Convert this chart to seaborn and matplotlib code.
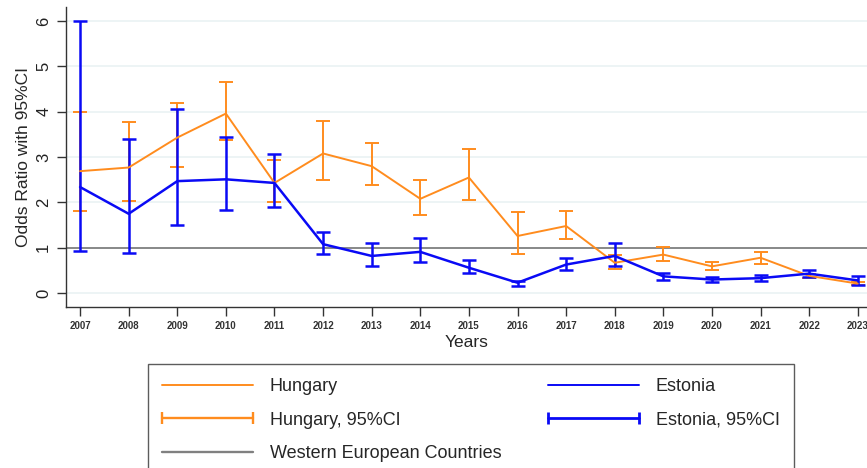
import pandas as pd
import numpy as np
import seaborn as sns
import matplotlib.pyplot as plt
from matplotlib.lines import Line2D
from matplotlib.legend_handler import HandlerLine2D

years = list(range(2007, 2024))

hu_or = [2.69, 2.77, 3.43, 3.96, 2.43, 3.08, 2.80, 2.08, 2.55, 1.26, 1.48, 0.67, 0.85, 0.59, 0.78, 0.38, 0.21]
hu_lo = [1.81, 2.03, 2.79, 3.38, 2.02, 2.49, 2.38, 1.72, 2.05, 0.87, 1.20, 0.54, 0.71, 0.50, 0.64, 0.34, 0.17]
hu_hi = [4.00, 3.77, 4.19, 4.66, 2.94, 3.79, 3.31, 2.49, 3.17, 1.80, 1.82, 0.83, 1.02, 0.69, 0.91, 0.43, 0.25]

ee_or = [2.34, 1.75, 2.47, 2.51, 2.43, 1.08, 0.82, 0.91, 0.56, 0.23, 0.63, 0.82, 0.37, 0.30, 0.33, 0.43, 0.28]
ee_lo = [0.92, 0.88, 1.51, 1.83, 1.91, 0.87, 0.60, 0.68, 0.45, 0.15, 0.51, 0.59, 0.30, 0.24, 0.26, 0.36, 0.18]
ee_hi = [6.00, 3.40, 4.07, 3.44, 3.06, 1.35, 1.10, 1.21, 0.72, 0.26, 0.77, 1.11, 0.44, 0.36, 0.39, 0.51, 0.38]

western_ref = 1.0
y_ticks = [0, 1, 2, 3, 4, 5, 6]

ORANGE = '#FF8C1E'
BLUE = '#0A0AF5'
GRAY = '#808080'

sns.set_style('white')
plt.rcParams['font.family'] = ['Liberation Sans', 'DejaVu Sans']

df = pd.concat([
    pd.DataFrame({'Year': years, 'OR': hu_or, 'lo': hu_lo, 'hi': hu_hi, 'Country': 'Hungary'}),
    pd.DataFrame({'Year': years, 'OR': ee_or, 'lo': ee_lo, 'hi': ee_hi, 'Country': 'Estonia'}),
])
palette = {'Hungary': ORANGE, 'Estonia': BLUE}
widths = {'Hungary': 1.4, 'Estonia': 1.8}

fig = plt.figure(figsize=(8.67, 4.68), dpi=100)
ax = fig.add_axes([0.0758, 0.3446, 0.9242, 0.6404])

for t in y_ticks:
    ax.axhline(t, color='#EAF2F3', lw=1.2, zorder=0)
ax.axhline(western_ref, color=GRAY, lw=1.3, zorder=1)

for country in ['Hungary', 'Estonia']:
    sub = df[df.Country == country]
    ax.errorbar(sub.Year, sub.OR, yerr=[sub.OR - sub.lo, sub.hi - sub.OR], fmt='none',
                ecolor=palette[country], elinewidth=widths[country], capsize=4.8,
                capthick=widths[country], zorder=2)
    sns.lineplot(data=sub, x='Year', y='OR', color=palette[country], lw=widths[country],
                 ax=ax, legend=False, zorder=3)

ax.set_xlim(2006.705, 2023.19)
ax.set_ylim(-0.30, 6.31)
ax.set_xticks(years)
ax.set_xticklabels([str(y) for y in years], fontsize=7, fontweight='bold', color='#333333')
ax.set_yticks(y_ticks)
ax.set_yticklabels([str(t) for t in y_ticks], fontsize=12, rotation=90, va='center', color='#222222')
ax.tick_params(axis='both', direction='out', length=6.5, width=1, color='#333333', left=True, bottom=True)
ax.tick_params(axis='y', pad=4)
ax.tick_params(axis='x', pad=4)
ax.set_xlabel('Years', fontsize=12.5, labelpad=3)
ax.set_ylabel('Odds Ratio with 95%CI', fontsize=12.5, labelpad=4)
for side in ['top', 'right']:
    ax.spines[side].set_visible(False)
for side in ['left', 'bottom']:
    ax.spines[side].set_color('#333333')
    ax.spines[side].set_linewidth(1)

h_hu = Line2D([], [], color=ORANGE, lw=1.4)
h_hu_ci = Line2D([], [], color=ORANGE, lw=1.7, marker='|', markersize=9, markeredgewidth=1.7)
h_we = Line2D([], [], color=GRAY, lw=1.7)
h_ee = Line2D([], [], color=BLUE, lw=1.4)
h_ee_ci = Line2D([], [], color=BLUE, lw=2.0, marker='|', markersize=9, markeredgewidth=2.0)

leg = fig.legend([h_hu, h_hu_ci, h_we, h_ee, h_ee_ci],
                 ['Hungary', 'Hungary, 95%CI', 'Western European Countries', 'Estonia', 'Estonia, 95%CI'],
                 ncol=2, loc='upper left', bbox_to_anchor=(148 / 867, 1 - 364 / 468),
                 fontsize=13, handlelength=5.0, handletextpad=0.95, columnspacing=2.6,
                 labelspacing=0.9, borderpad=0.8, borderaxespad=0, fancybox=False,
                 frameon=True, edgecolor='#333333',
                 handler_map={h_hu_ci: HandlerLine2D(numpoints=2, marker_pad=0),
                              h_ee_ci: HandlerLine2D(numpoints=2, marker_pad=0)})
leg.get_frame().set_linewidth(1)

fig.savefig('out.png', dpi=100)
